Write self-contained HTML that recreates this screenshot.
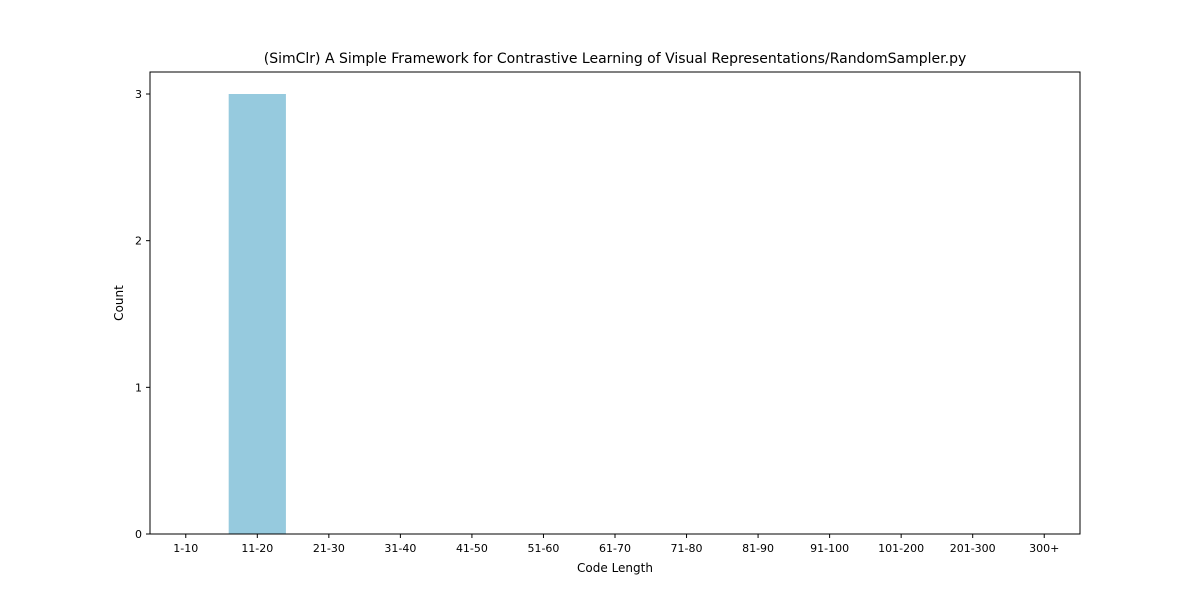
<!DOCTYPE html>
<html><head><meta charset="utf-8"><style>
body{margin:0;background:#fff;}
svg{display:block;font-family:"DejaVu Sans","Liberation Sans",sans-serif;}
</style></head><body>
<svg id="chart" width="1200" height="600">
<rect width="1200" height="600" fill="#fff"/>
<text x="615" y="63" text-anchor="middle" font-size="14" fill="#000">(SimClr) A Simple Framework for Contrastive Learning of Visual Representations/RandomSampler.py</text>
<g id="bars"></g>
<g id="xticks"></g>
<g id="yticks"></g>
<rect x="150" y="72" width="930" height="462" fill="none" stroke="#000" stroke-width="1"/>
<text x="615" y="572" text-anchor="middle" font-size="12">Code Length</text>
<text transform="translate(123,303) rotate(-90)" text-anchor="middle" font-size="12">Count</text>
</svg>
<script>
const categories=["1-10","11-20","21-30","31-40","41-50","51-60","61-70","71-80","81-90","91-100","101-200","201-300","300+"];
const counts=[0,3,0,0,0,0,0,0,0,0,0,0,0];
const yTicks=[0,1,2,3];
const L=150,R=1080,T=72,B=534,yMax=3.15;
const ns="http://www.w3.org/2000/svg";
const xs=i=>L+(i+0.5)*(R-L)/categories.length;
const ys=v=>B-v*(B-T)/yMax;
const bw=0.8*(R-L)/categories.length;
const bars=document.getElementById('bars'),xt=document.getElementById('xticks'),yt=document.getElementById('yticks');
categories.forEach((c,i)=>{
  const r=document.createElementNS(ns,'rect');
  r.setAttribute('x',xs(i)-bw/2);r.setAttribute('y',ys(counts[i]));
  r.setAttribute('width',bw);r.setAttribute('height',B-ys(counts[i]));
  r.setAttribute('fill','#96cade');
  
  
  bars.appendChild(r);
  const l=document.createElementNS(ns,'line');
  l.setAttribute('x1',xs(i));l.setAttribute('x2',xs(i));l.setAttribute('y1',B);l.setAttribute('y2',B+4);l.setAttribute('stroke','#000');
  
  
  xt.appendChild(l);
  const t=document.createElementNS(ns,'text');
  t.setAttribute('x',xs(i));t.setAttribute('y',B+18);t.setAttribute('text-anchor','middle');t.setAttribute('font-size','11');
  t.textContent=c;
  
  
  xt.appendChild(t);
});
yTicks.forEach(v=>{
  const l=document.createElementNS(ns,'line');
  l.setAttribute('x1',L-4);l.setAttribute('x2',L);l.setAttribute('y1',ys(v));l.setAttribute('y2',ys(v));l.setAttribute('stroke','#000');
  
  
  yt.appendChild(l);
  const t=document.createElementNS(ns,'text');
  t.setAttribute('x',L-8);t.setAttribute('y',ys(v)+4);t.setAttribute('text-anchor','end');t.setAttribute('font-size','11');
  t.textContent=v;
  
  
  yt.appendChild(t);
});
</script>
</body></html>
